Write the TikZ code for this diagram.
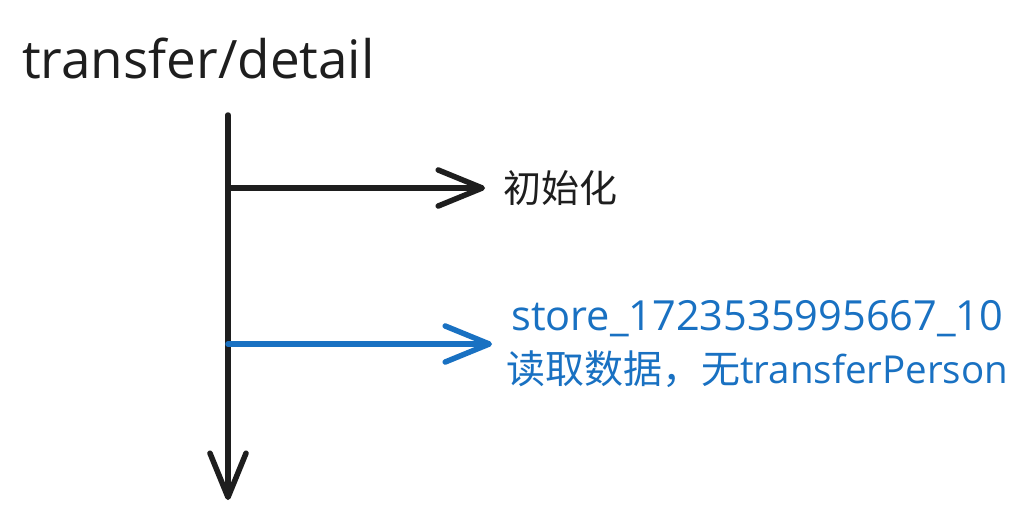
\documentclass[tikz,border=0pt]{standalone}
\usepackage{fontspec}
\setmainfont{Open Sans}
\newfontfamily\cjk{Noto Sans CJK SC}
\usetikzlibrary{arrows.meta}
\definecolor{inkblack}{HTML}{1E1E1E}
\definecolor{inkblue}{HTML}{1971C2}
\tikzset{
  flow/.style={line width=5.5pt, line cap=round, -{Straight Barb[length=44pt,width=36pt,line width=5.5pt,round]}},
  lbl/.style={inner sep=0pt, anchor=west}
}
\begin{document}
\begin{tikzpicture}[x=1pt,y=-1pt]
              \useasboundingbox[fill=white] (0,0) rectangle (1036,523);
              \node[anchor=base west, inner sep=0pt, text=inkblack, font=\fontsize{53}{60}\selectfont] (title) at (22,78) {transfer/detail};
              \coordinate (top) at (228,115);
              \coordinate (bottom) at (228,500);
              \coordinate (init) at (228,188);
              \coordinate (read) at (228,344);
              \node[lbl, text=inkblack, font=\fontsize{38}{46}\selectfont\cjk] (initlbl) at (503,188) {初始化};
              \node[lbl, text=inkblue, align=center, font=\fontsize{41.5}{53}\selectfont] (readlbl) at (506,344) {store\_1723535995667\_10\\{\cjk\fontsize{39}{53}\selectfont 读取数据，无}{\fontsize{38.5}{53}\selectfont transferPerson}};
              \draw[flow, inkblack] (top) -- (bottom);
              \draw[flow, inkblack, shorten >=18pt] (init) -- (initlbl.west);
              \draw[flow, inkblue, shorten >=14pt] (read) -- (readlbl.west);
            \end{tikzpicture}
\end{document}
